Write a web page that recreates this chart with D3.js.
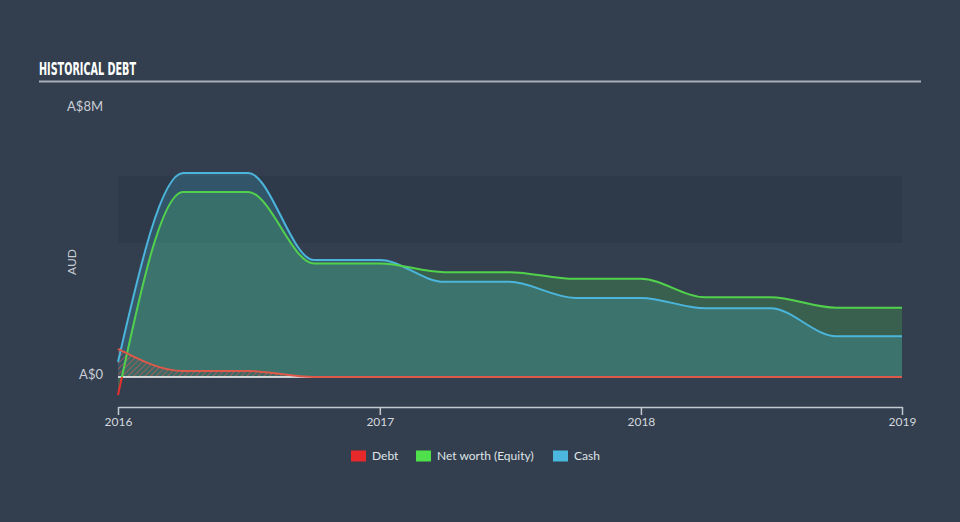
<!DOCTYPE html>
<html><head><meta charset="utf-8">
<script src="https://cdnjs.cloudflare.com/ajax/libs/d3/7.8.5/d3.min.js"></script>
<style>
html,body{margin:0;padding:0;background:#333f4e;}
svg{display:block;}
</style></head>
<body>
<script>
const dates = ["2016-01-01","2016-04-01","2016-07-01","2016-10-01","2017-01-01","2017-04-01","2017-07-01","2017-10-01","2018-01-01","2018-04-01","2018-07-01","2018-10-01","2019-01-01"];
const debt   = [0.84, 0.18, 0.18, 0, 0, 0, 0, 0, 0, 0, 0, 0, 0];
const equity = [-0.54, 5.52, 5.52, 3.39, 3.39, 3.13, 3.13, 2.93, 2.93, 2.38, 2.38, 2.07, 2.07];
const cash   = [0.45, 6.09, 6.09, 3.49, 3.49, 2.84, 2.84, 2.36, 2.36, 2.05, 2.05, 1.22, 1.22];
const xTickLabels = ["2016","2017","2018","2019"];
const yTickValues = [0, 8];
const yTickLabels = ["A$0","A$8M"];
const legendNames = ["Debt","Net worth (Equity)","Cash"];

const W = 960, H = 522;
const svg = d3.select("body").append("svg").attr("width", W).attr("height", H);
svg.append("rect").attr("width", W).attr("height", H).attr("fill", "#333f4e");

const parse = d3.timeParse("%Y-%m-%d");
const xs = dates.map(parse);
const x = d3.scaleTime().domain([parse("2016-01-01"), parse("2019-01-01")]).range([118, 902]);
const y = d3.scaleLinear().domain([0, 8]).range([377, 109]);

const defs = svg.append("defs");
const pat = defs.append("pattern").attr("id","hatch").attr("patternUnits","userSpaceOnUse")
  .attr("width",4).attr("height",4).attr("patternTransform","rotate(45)");
pat.append("rect").attr("width",4).attr("height",4).attr("fill","rgba(60,70,80,0.25)");
pat.append("line").attr("x1",0).attr("y1",0).attr("x2",0).attr("y2",4)
  .attr("stroke","rgba(225,90,80,0.7)").attr("stroke-width",1.6);
defs.append("clipPath").attr("id","above").append("rect").attr("x",0).attr("y",0).attr("width",W).attr("height",y(0));
defs.append("clipPath").attr("id","below").append("rect").attr("x",0).attr("y",y(0)).attr("width",W).attr("height",H);

// title
svg.append("text").attr("x",39).attr("y",75).text("HISTORICAL DEBT")
  .attr("font-family","'Liberation Sans Narrow','DejaVu Sans Condensed',sans-serif")
  .attr("font-weight","bold").attr("font-size",17).attr("fill","#ffffff")
  .attr("textLength",97).attr("lengthAdjust","spacingAndGlyphs");
svg.append("line").attr("x1",39).attr("x2",921).attr("y1",81.5).attr("y2",81.5)
  .attr("stroke","#a9afb8").attr("stroke-width",2);

// band
svg.append("rect").attr("x",x.range()[0]).attr("width",x.range()[1]-x.range()[0])
  .attr("y",y(6)).attr("height",y(4)-y(6)).attr("fill","#2e3a4a");

const curve = d3.curveMonotoneX;
const idx = d3.range(dates.length);
const area = arr => d3.area().curve(curve).x(i=>x(xs[i])).y0(y(0)).y1(i=>y(arr[i]));
const line = arr => d3.line().curve(curve).x(i=>x(xs[i])).y(i=>y(arr[i]));

svg.append("path").attr("d", area(equity)(idx)).attr("fill","rgba(80,215,80,0.22)");
svg.append("path").attr("d", area(cash)(idx)).attr("fill","rgba(72,182,222,0.22)");
svg.append("path").attr("d", area(debt)(idx)).attr("fill","url(#hatch)");

svg.append("line").attr("x1",x.range()[0]).attr("x2",x.range()[1]).attr("y1",y(0)).attr("y2",y(0))
  .attr("stroke","#ffffff").attr("stroke-width",1.5);

svg.append("path").attr("d", line(cash)(idx)).attr("fill","none").attr("stroke","#4bb5dc").attr("stroke-width",2);
svg.append("path").attr("d", line(equity)(idx)).attr("fill","none").attr("stroke","#52d24c").attr("stroke-width",2).attr("clip-path","url(#above)");
svg.append("path").attr("d", line(equity)(idx)).attr("fill","none").attr("stroke","#e8302e").attr("stroke-width",2).attr("clip-path","url(#below)");
svg.append("path").attr("d", line(debt)(idx)).attr("fill","none").attr("stroke","#dd5a4a").attr("stroke-width",2);

// y labels
const lblFont = "'Lato','Open Sans',sans-serif";
yTickValues.forEach((v,i)=>{
  svg.append("text").attr("x",103).attr("y",y(v)-3).attr("dy","0.35em").attr("text-anchor","end")
    .attr("font-family",lblFont).attr("font-size",13).attr("fill","#c9ced6").text(yTickLabels[i]);
});
svg.append("text").attr("transform","translate(76,262) rotate(-90)").attr("text-anchor","middle")
  .attr("font-family",lblFont).attr("font-size",12).attr("fill","#c9ced6").text("AUD");

// x axis
const xAxis = d3.axisBottom(x).tickValues(xTickLabels.map(t=>parse(t+"-01-01")))
  .tickFormat((d,i)=>xTickLabels[i]).tickSize(8).tickSizeOuter(0);
const gx = svg.append("g").attr("transform","translate(0,407)").call(xAxis);
gx.select(".domain").attr("stroke","#c3c9d1").attr("stroke-width",1.5);
gx.selectAll(".tick line").attr("stroke","#c3c9d1").attr("stroke-width",1.5);
gx.selectAll(".tick text").attr("font-family",lblFont).attr("font-size",12).attr("fill","#d3d8de")
  .attr("y",14).attr("dy","0em").attr("dominant-baseline","central");

// legend
const legColors = ["#e8292b","#50e04c","#4bb7df"];
const legX = [351, 416, 553];
legendNames.forEach((n,i)=>{
  svg.append("rect").attr("x",legX[i]).attr("y",450.5).attr("width",15).attr("height",11).attr("fill",legColors[i]);
  svg.append("text").attr("x",legX[i]+21).attr("y",456).attr("dy","0.35em")
    .attr("font-family",lblFont).attr("font-size",12).attr("fill","#dfe3e8").text(n);
});
</script>
</body></html>
